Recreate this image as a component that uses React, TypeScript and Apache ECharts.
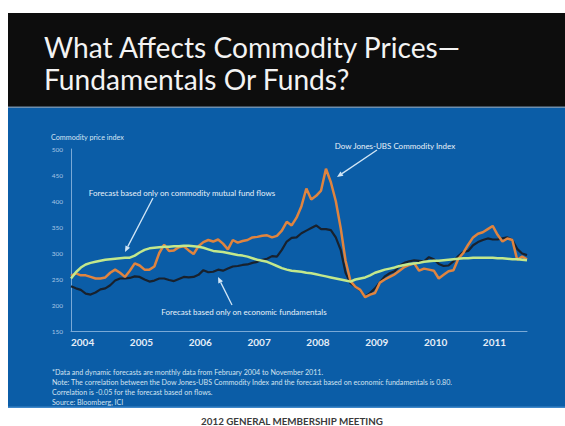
import React, { useEffect, useRef } from "react";
import * as echarts from "echarts";

// Month index 0 = Feb 2004 ... 93 = Nov 2011
const yearLabels = ["2004", "2005", "2006", "2007", "2008", "2009", "2010", "2011"];

const djUbsIndex = [
  256, 261, 257, 257, 254, 251, 251, 253, 262, 268,
  262, 254, 266, 280, 276, 268, 268, 274, 300, 316,
  304, 305, 311, 313, 305, 298, 313, 321, 325, 322,
  326, 318, 307, 325, 320, 323, 325, 330, 331, 333,
  334, 330, 333, 343, 360, 353, 368, 390, 424, 403,
  410, 420, 462, 436, 400, 348, 285, 246, 235, 229,
  215, 220, 223, 243, 249, 254, 259, 266, 273, 277,
  280, 266, 270, 268, 266, 251, 258, 265, 267, 289,
  300, 316, 330, 337, 340, 346, 352, 335, 322, 328,
  325, 287, 293, 288,
];

const fundamentalsForecast = [
  236, 232, 229, 222, 220, 224, 230, 232, 238, 247,
  251, 251, 252, 255, 254, 249, 245, 247, 251, 251,
  248, 246, 250, 254, 253, 254, 258, 267, 263, 264,
  268, 266, 270, 274, 275, 277, 278, 281, 283, 287,
  289, 294, 293, 306, 322, 329, 330, 338, 343, 348,
  353, 346, 346, 344, 330, 306, 262, 242, 235, 228,
  216, 223, 232, 244, 255, 261, 265, 276, 281, 284,
  286, 285, 284, 292, 288, 279, 275, 276, 284, 294,
  302, 304, 315, 321, 325, 328, 326, 326, 328, 330,
  325, 308, 299, 296,
];

const fundFlowsForecast = [
  251, 263, 272, 278, 281, 283, 285, 287, 288, 289,
  290, 291, 291, 295, 301, 306, 309, 310, 311, 312,
  312, 313, 313, 314, 314, 313, 312, 310, 307, 304,
  303, 302, 300, 298, 296, 295, 293, 290, 287, 285,
  283, 279, 275, 271, 268, 266, 265, 264, 262, 261,
  259, 257, 255, 253, 251, 249, 247, 245, 249, 251,
  253, 257, 262, 265, 268, 270, 272, 275, 277, 279,
  280, 281, 283, 284, 285, 285, 286, 287, 288, 289,
  290, 290, 291, 291, 291, 291, 291, 290, 290, 289,
  288, 288, 287, 286,
];

const titleLines = ["What Affects Commodity Prices\u2014", "Fundamentals Or Funds?"];
const footnotes = [
  "*Data and dynamic forecasts are monthly data from February 2004 to November 2011.",
  "Note: The correlation between the Dow Jones-UBS Commodity Index and the forecast based on economic fundamentals is 0.80.",
  "Correlation is -0.05 for the forecast based on flows.",
  "Source: Bloomberg, ICI",
];
const footerText = "2012 GENERAL MEMBERSHIP MEETING";

const FONT = "Lato, 'Open Sans', sans-serif";

function fitSize(text: string, target: number, weight: string, fallback: number): number {
  try {
    const c = document.createElement("canvas").getContext("2d");
    if (!c) return fallback;
    c.font = `${weight} 100px Lato`;
    const w = c.measureText(text).width;
    if (!w) return fallback;
    return (100 * target) / w;
  } catch (e) {
    return fallback;
  }
}

function arrow(x1: number, y1: number, x2: number, y2: number, color: string) {
  const dx = x2 - x1;
  const dy = y2 - y1;
  const len = Math.sqrt(dx * dx + dy * dy);
  const ux = dx / len;
  const uy = dy / len;
  const L = 6;
  const W = 2.6;
  const bx = x2 - ux * L;
  const by = y2 - uy * L;
  return [
    {
      type: "line",
      shape: { x1, y1, x2: bx, y2: by },
      style: { stroke: color, lineWidth: 1.3 },
      z: 10,
    },
    {
      type: "polygon",
      shape: {
        points: [
          [x2, y2],
          [bx - uy * W, by + ux * W],
          [bx + uy * W, by - ux * W],
        ],
      },
      style: { fill: color },
      z: 10,
    },
  ];
}

export default function App() {
  const ref = useRef<HTMLDivElement>(null);

  useEffect(() => {
    if (!ref.current) return;
    const chart = echarts.init(ref.current, undefined, { renderer: "svg" });

    const titleSize = fitSize(titleLines[0], 418, "normal", 28);
    const noteSize = fitSize(footnotes[1], 402, "normal", 7);
    const annFlows = "Forecast based only on commodity mutual fund flows";
    const annDj = "Dow Jones-UBS Commodity Index";
    const annFund = "Forecast based only on economic fundamentals";
    const annSize = fitSize(annFlows, 187, "normal", 8);
    const footerSize = Math.min(9.8, fitSize(footerText, 186, "bold", 9.5));

    const arrowColor = "#d2e6f6";
    const textLight = "#e8f1f9";

    const toPairs = (arr: number[]) => arr.map((v, i) => [i, v]);

    const option: any = {
      animation: false,
      backgroundColor: "#ffffff",
      grid: { left: 71, right: 38, top: 149, bottom: 95, containLabel: false },
      xAxis: {
        type: "value",
        min: 0,
        max: 93,
        interval: 12,
        axisLine: { show: true, lineStyle: { color: "#7aa9d6", width: 1 } },
        axisTick: { show: false },
        splitLine: { show: false },
        axisLabel: {
          formatter: (v: number) => (v % 12 === 0 ? yearLabels[v / 12] || "" : ""),
          align: "left",
          margin: 6,
          color: "#e6eef7",
          fontWeight: "bold",
          fontSize: 10,
          fontFamily: FONT,
          showMaxLabel: false,
        },
      },
      yAxis: {
        type: "value",
        min: 150,
        max: 500,
        interval: 50,
        axisLine: { show: true, lineStyle: { color: "#7aa9d6", width: 1 } },
        axisTick: { show: false },
        splitLine: { show: false },
        axisLabel: {
          color: "#a8c6e4",
          fontSize: 6.5,
          fontFamily: FONT,
          margin: 8,
        },
      },
      series: [
        {
          name: "Forecast based only on economic fundamentals",
          type: "line",
          data: toPairs(fundamentalsForecast),
          showSymbol: false,
          lineStyle: { color: "#18212d", width: 2.2 },
          z: 3,
        },
        {
          name: "Dow Jones-UBS Commodity Index",
          type: "line",
          data: toPairs(djUbsIndex),
          showSymbol: false,
          lineStyle: { color: "#e0843f", width: 2.5 },
          z: 4,
        },
        {
          name: "Forecast based only on commodity mutual fund flows",
          type: "line",
          data: toPairs(fundFlowsForecast),
          showSymbol: false,
          lineStyle: { color: "#c2e88c", width: 2.5 },
          z: 5,
        },
      ],
      graphic: [
        { type: "rect", shape: { x: 8, y: 13, width: 557, height: 95 }, style: { fill: "#0d0d0d" }, z: -10 },
        { type: "rect", shape: { x: 8, y: 108, width: 557, height: 300 }, style: { fill: "#0b5da7" }, z: -10 },
        { type: "rect", shape: { x: 8, y: 106.5, width: 557, height: 1.5 }, style: { fill: "#6f8fae" }, z: -9 },
        { type: "rect", shape: { x: 8, y: 406.5, width: 557, height: 1.5 }, style: { fill: "#3f87c9" }, z: -9 },
        {
          type: "text",
          x: 44,
          y: 47,
          style: { text: titleLines[0], fill: "#f3f3f3", fontSize: titleSize, fontFamily: FONT, verticalAlign: "middle", align: "left" },
          z: 10,
        },
        {
          type: "text",
          x: 44,
          y: 79,
          style: { text: titleLines[1], fill: "#f3f3f3", fontSize: titleSize, fontFamily: FONT, verticalAlign: "middle", align: "left" },
          z: 10,
        },
        {
          type: "text",
          x: 51,
          y: 137,
          style: { text: "Commodity price index", fill: "#d5e5f4", fontSize: 7.2, fontFamily: FONT, verticalAlign: "middle", align: "left" },
          z: 10,
        },
        {
          type: "text",
          x: 182,
          y: 193,
          style: { text: annFlows, fill: textLight, fontSize: annSize, fontFamily: FONT, verticalAlign: "middle", align: "center" },
          z: 10,
        },
        {
          type: "text",
          x: 395,
          y: 146,
          style: { text: annDj, fill: textLight, fontSize: annSize, fontFamily: FONT, verticalAlign: "middle", align: "center" },
          z: 10,
        },
        {
          type: "text",
          x: 244,
          y: 312,
          style: { text: annFund, fill: textLight, fontSize: annSize, fontFamily: FONT, verticalAlign: "middle", align: "center" },
          z: 10,
        },
        ...arrow(153, 198, 125, 252, arrowColor),
        ...arrow(377, 150, 337, 177, arrowColor),
        ...arrow(232, 305, 218, 277, arrowColor),
        ...footnotes.map((t, k) => ({
          type: "text",
          x: 52,
          y: 372 + k * 10,
          style: { text: t, fill: "#d2e2f0", fontSize: noteSize, fontFamily: FONT, verticalAlign: "middle", align: "left" },
          z: 10,
        })),
        {
          type: "text",
          x: 292,
          y: 421,
          style: {
            text: footerText,
            fill: "#3a3a3a",
            fontSize: footerSize,
            fontWeight: "bold",
            fontFamily: FONT,
            verticalAlign: "middle",
            align: "center",
          },
          z: 10,
        },
      ],
    };

    chart.setOption(option);
    return () => chart.dispose();
  }, []);

  return (
    <div
      ref={ref}
      style={{ position: "absolute", left: 0, top: 0, width: 565, height: 426, background: "#fff" }}
    />
  );
}
